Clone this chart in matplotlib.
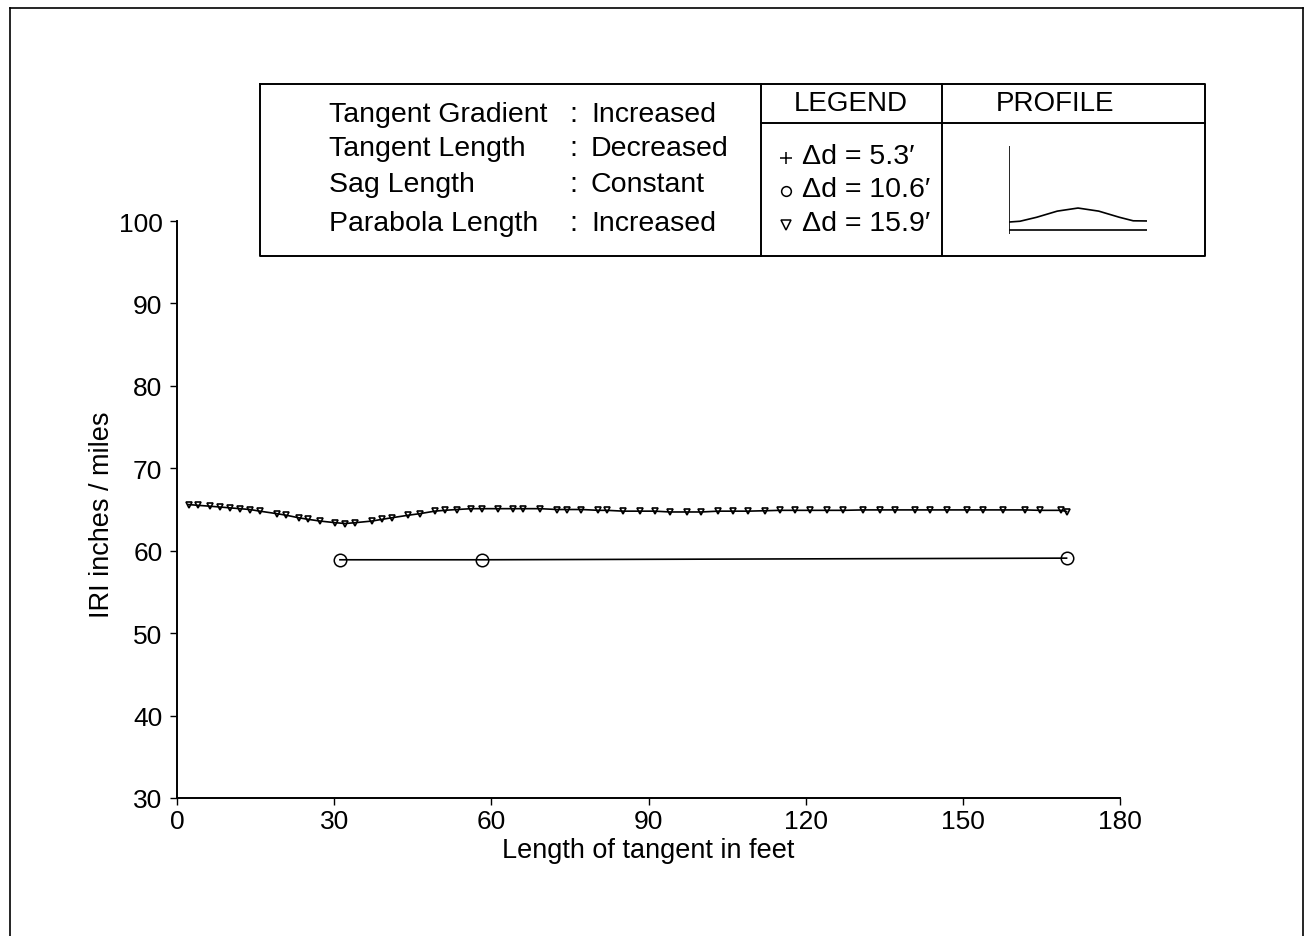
import numpy as np
import matplotlib
matplotlib.use('Agg')
import matplotlib.pyplot as plt

plt.rcParams['font.family'] = ['Liberation Sans', 'DejaVu Sans']

# delta d = 15.9' series (triangles)
tri_x = [2.2, 4.1, 6.3, 8.2, 10.1, 12.0, 13.9, 15.8, 19.0, 20.9, 23.2, 25.1,
         27.3, 30.2, 32.1, 34.0, 37.2, 39.1, 41.0, 44.1, 46.4, 49.2, 51.1,
         53.4, 56.2, 58.2, 61.3, 64.2, 66.1, 69.3, 72.5, 74.4, 77.2, 80.4,
         82.0, 85.2, 88.4, 91.2, 94.1, 97.3, 100.1, 103.3, 106.2, 109.0,
         112.2, 115.1, 117.9, 120.8, 124.0, 127.2, 131.0, 134.2, 137.0,
         140.8, 143.7, 146.9, 150.7, 153.9, 157.7, 161.8, 164.7, 168.8, 169.8]
tri_y = [65.6, 65.5, 65.4, 65.3, 65.2, 65.1, 65.0, 64.8, 64.5, 64.3, 64.0, 63.8,
         63.6, 63.4, 63.3, 63.4, 63.6, 63.8, 64.0, 64.3, 64.5, 64.8, 64.9,
         65.0, 65.1, 65.1, 65.1, 65.1, 65.1, 65.1, 65.0, 65.0, 65.0, 64.9,
         64.9, 64.8, 64.8, 64.8, 64.7, 64.7, 64.7, 64.8, 64.8, 64.8,
         64.85, 64.9, 64.9, 64.9, 64.9, 64.9, 64.95, 64.95, 64.95,
         64.95, 64.95, 64.95, 64.95, 64.95, 64.95, 64.95, 64.9, 64.9, 64.75]

# delta d = 10.6' series (circles)
circ_x = [31.1, 58.2, 169.8]
circ_y = [58.9, 58.9, 59.1]

xticks = [0, 30, 60, 90, 120, 150, 180]
yticks = [30, 40, 50, 60, 70, 80, 90, 100]

conditions = ['Tangent Gradient', 'Tangent Length', 'Sag Length', 'Parabola Length']
changes = ['Increased', 'Decreased', 'Constant', 'Increased']
legend_labels = ["\u0394d = 5.3\u2032", "\u0394d = 10.6\u2032", "\u0394d = 15.9\u2032"]
legend_markers = ['+', 'o', 'v']

# profile sketch (normalised to its cell)
profile_x = [0, 0.08, 0.2, 0.35, 0.5, 0.65, 0.8, 0.9, 1.0]
profile_y = [0.136, 0.145, 0.19, 0.26, 0.295, 0.26, 0.19, 0.15, 0.148]

W, H = 1313, 937
fig = plt.figure(figsize=(W / 100, H / 100), dpi=100)

# overlay in pixel coordinates for page frame and info box
ov = fig.add_axes([0, 0, 1, 1])
ov.set_xlim(0, W)
ov.set_ylim(H, 0)
ov.axis('off')

lw_box = 1.4
ov.plot([10, 10], [H, 9], color='black', lw=1.2)
ov.plot([10, 1303], [9, 9], color='black', lw=1.2)
ov.plot([1303, 1303], [9, H], color='black', lw=1.2)

bx0, bx1, by0, by1 = 260, 1205, 85, 257
ov.plot([bx0, bx1, bx1, bx0, bx0], [by0, by0, by1, by1, by0], color='black', lw=lw_box)
ov.plot([761, 761], [by0, by1], color='black', lw=lw_box)
ov.plot([942, 942], [by0, by1], color='black', lw=lw_box)
ov.plot([761, bx1], [124, 124], color='black', lw=lw_box)

fs_box = 20.5
rows_y = [115, 149, 185, 224]
for yy, c, v in zip(rows_y, conditions, changes):
    ov.text(329, yy, c, fontsize=fs_box, ha='left', va='center')
    ov.text(569, yy, ':', fontsize=fs_box, ha='left', va='center')
    ov.text(591, yy, v, fontsize=fs_box, ha='left', va='center')

ov.text(851, 104, 'LEGEND', fontsize=20, ha='center', va='center')
ov.text(1055, 104, 'PROFILE', fontsize=20, ha='center', va='center')

leg_y = [157, 190, 224]
for yy, m, lab in zip(leg_y, legend_markers, legend_labels):
    ov.plot([786], [yy + 2], marker=m, ms=8 if m == '+' else 7, mfc='none',
            mec='black', mew=1.1, ls='none')
    ov.text(802, yy, lab, fontsize=20.5, ha='left', va='center')

# profile sketch cell
pa = fig.add_axes([1009 / W, 1 - 235 / H, 138 / W, 88 / H])
pa.set_xlim(0, 1)
pa.set_ylim(0, 1)
pa.axis('off')
pa.plot([0, 0], [0, 1], color='black', lw=1.2)
pa.plot([0, 1], [0.045, 0.045], color='black', lw=1.2)
pa.plot(profile_x, profile_y, color='black', lw=1.2)

# main chart
ax = fig.add_axes([177 / W, 1 - 799 / H, 943 / W, 577 / H])
ax.patch.set_alpha(0)
ax.plot(tri_x, tri_y, color='black', lw=1.2, marker='v', ms=5,
        mfc='none', mec='black', mew=1.2)
ax.plot(circ_x, circ_y, color='black', lw=1.2, marker='o', ms=9,
        mfc='none', mec='black', mew=1.1)

ax.set_xlim(0, 180)
ax.set_ylim(30, 100)
ax.set_xticks(xticks)
ax.set_yticks(yticks)
ax.spines['top'].set_visible(False)
ax.spines['right'].set_visible(False)
ax.spines['left'].set_linewidth(1.4)
ax.spines['bottom'].set_linewidth(1.4)
ax.tick_params(axis='both', direction='out', length=5, width=1.0, labelsize=19)
ax.tick_params(axis='y', pad=5.5)
ax.tick_params(axis='x', pad=3)

ax.set_xlabel('Length of tangent in feet', fontsize=19.5)
ax.set_ylabel('IRI inches / miles', fontsize=19.5)
ax.xaxis.set_label_coords(0.5, -0.0676)
ax.yaxis.set_label_coords(-0.0657, 0.492)

fig.savefig('out.png', dpi=100)
